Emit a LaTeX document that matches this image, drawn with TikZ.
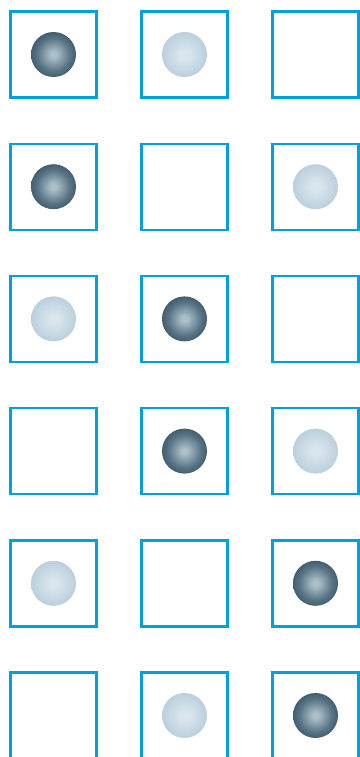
\documentclass[tikz,border=0pt]{standalone}
\definecolor{framecolor}{RGB}{0, 160, 222}
\definecolor{darkin}{RGB}{172, 192, 202}
\definecolor{darkmid}{RGB}{90, 118, 134}
\definecolor{darkout}{RGB}{38, 64, 82}
\definecolor{lightin}{RGB}{218, 230, 237}
\definecolor{lightout}{RGB}{176, 200, 215}
\pgfdeclareradialshading{darksphere}{\pgfpoint{0bp}{0bp}}{color(0bp)=(darkin); color(3bp)=(darkin); color(18bp)=(darkmid); color(34bp)=(darkout); color(50bp)=(darkout)}
\pgfdeclareradialshading{lightsphere}{\pgfpoint{0bp}{0bp}}{color(0bp)=(lightin); color(4bp)=(lightin); color(32bp)=(lightout); color(50bp)=(lightout)}
\begin{document}
\begin{tikzpicture}[x=1pt, y=-1pt]
            \tikzset{
                cell/.style={draw=framecolor, line width=2.4pt, minimum size=86pt, inner sep=0pt},
                darkball/.style={circle, minimum size=45pt, inner sep=0pt, shading=darksphere},
                lightball/.style={circle, minimum size=45pt, inner sep=0pt, shading=lightsphere}
            }

            \useasboundingbox (0,0) rectangle (359,757);

            % the frames
            \foreach \row in {1,...,6} {
                    \foreach \col in {1,2,3} {
                            \node[cell] (cell-\row-\col) at ({53.5+131*(\col-1)}, {54.5+132.2*(\row-1)}) {};
                        }
                }

            % the balls
            \foreach \row/\col/\kind in {1/1/darkball, 1/2/lightball, 2/1/darkball, 2/3/lightball,
                    3/1/lightball, 3/2/darkball, 4/2/darkball, 4/3/lightball,
                    5/1/lightball, 5/3/darkball, 6/2/lightball, 6/3/darkball} {
                    \node[\kind] (ball-\row-\col) at (cell-\row-\col) {};
                }
        \end{tikzpicture}
\end{document}
